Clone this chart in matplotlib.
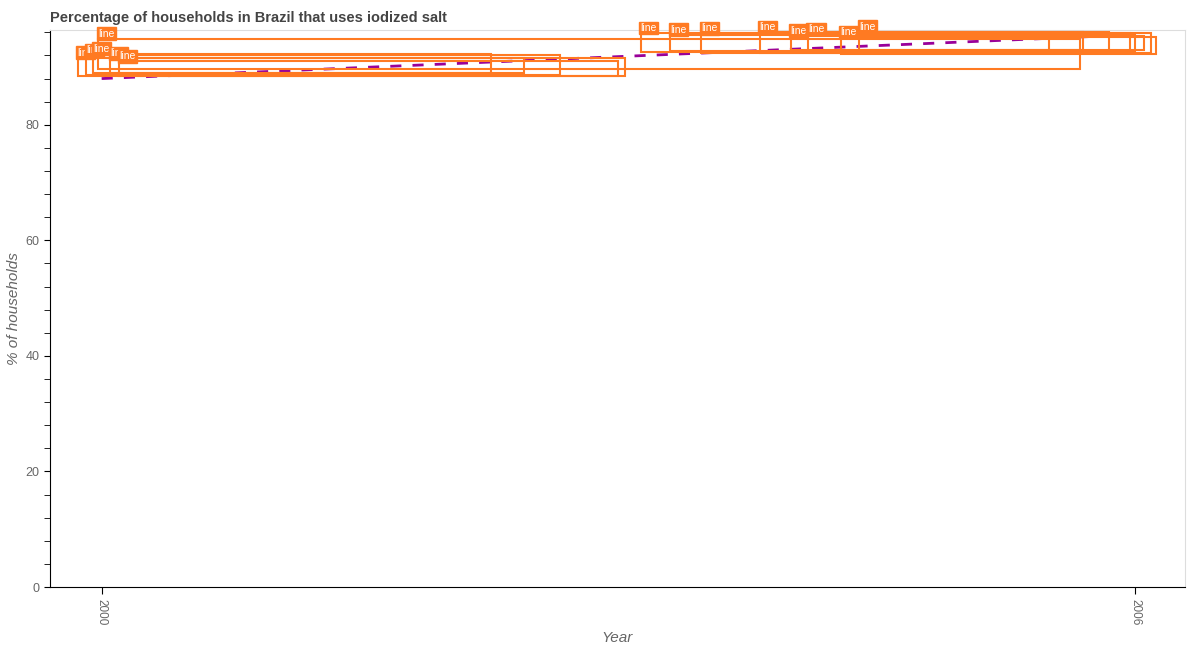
import matplotlib.pyplot as plt
from matplotlib.patches import Rectangle
from matplotlib.ticker import MultipleLocator

plt.rcParams['font.family'] = ['Liberation Sans', 'DejaVu Sans']

# data
years = [2000, 2006]
pct_iodized = [88.0, 95.6]

# overlay boxes seen on the picture (year0, year1, pct0, pct1)
box_x0 = [1999.98, 1999.86, 1999.91, 1999.95, 2000.05, 2000.1, 2003.13, 2003.3, 2003.48, 2003.82, 2004.0, 2004.29, 2004.1, 2004.4]
box_x1 = [2005.68, 2003.04, 2002.66, 2002.26, 2002.45, 2003.0, 2005.97, 2006.0, 2006.09, 2005.85, 2006.05, 2006.12, 2005.5, 2005.7]
box_y0 = [89.7, 88.5, 88.7, 88.9, 89.0, 88.4, 92.6, 92.8, 92.4, 92.5, 93.0, 92.3, 92.7, 92.9]
box_y1 = [94.9, 91.6, 92.0, 92.3, 91.5, 91.0, 95.9, 95.6, 95.8, 96.0, 95.4, 95.2, 95.7, 96.1]

orange = '#ff7a22'

fig = plt.figure(figsize=(11.93, 6.5), dpi=100)
ax = fig.add_axes([0.0419, 0.0969, 0.9514, 0.8569])

ax.plot(years, pct_iodized, color='#990099', linestyle='--', linewidth=2, dashes=(4, 4))

for x0, x1, y0, y1 in zip(box_x0, box_x1, box_y0, box_y1):
    ax.add_patch(Rectangle((x0, y0), x1 - x0, y1 - y0, fill=False, edgecolor=orange,
                           linewidth=1.5, clip_on=False, zorder=3))
    ax.text(x0, y1, 'line', fontsize=7.5, color='white', ha='left', va='bottom',
            bbox=dict(facecolor=orange, edgecolor=orange, pad=1), clip_on=False, zorder=4)

ax.set_xlim(1999.7, 2006.29)
ax.set_ylim(0, 96.4)
ax.set_xticks(years)
ax.set_xticklabels([str(y) for y in years], rotation=270, color='#666666', fontsize=8.5)
ax.yaxis.set_major_locator(MultipleLocator(20))
ax.yaxis.set_minor_locator(MultipleLocator(4))
ax.tick_params(axis='y', labelcolor='#666666', labelsize=9, length=4)
ax.tick_params(axis='y', which='minor', length=4)
ax.tick_params(axis='x', length=5)

ax.spines['top'].set_color('#dddddd')
ax.spines['right'].set_color('#dddddd')
ax.spines['left'].set_color('black')
ax.spines['bottom'].set_color('black')

ax.set_xlabel('Year', fontsize=11, style='italic', color='#666666', labelpad=4)
ax.set_ylabel('% of households', fontsize=11, style='italic', color='#666666', labelpad=3)
ax.set_title('Percentage of households in Brazil that uses iodized salt', loc='left',
             fontsize=10.5, fontweight='bold', color='#444444', pad=6)

fig.savefig('out.png', dpi=100)
